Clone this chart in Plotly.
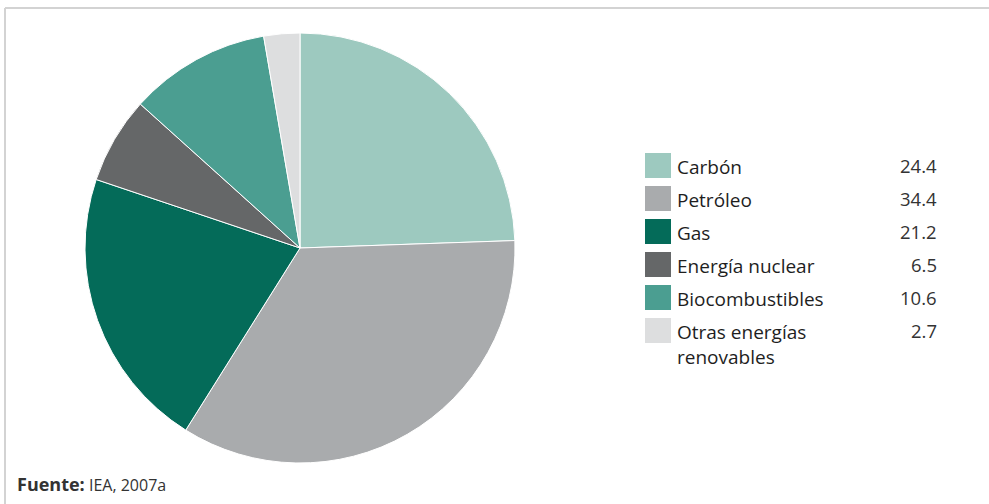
import plotly.graph_objects as go

categories = ["Carbón", "Petróleo", "Gas", "Energía nuclear", "Biocombustibles", "Otras energías<br>renovables"]
values = [24.4, 34.4, 21.2, 6.5, 10.6, 2.7]
value_labels = ["24.4", "34.4", "21.2", "6.5", "10.6", "2.7"]
colors = ["#9dc9bf", "#a9abad", "#046b59", "#656768", "#4b9e91", "#dddedf"]

W, H = 989, 504
def px(x): return x / W
def py(y): return 1 - y / H

fig = go.Figure()
fig.add_trace(go.Pie(
    labels=categories, values=values, sort=False, direction="clockwise", rotation=0,
    marker=dict(colors=colors, line=dict(color="white", width=1)),
    textinfo="none", hoverinfo="label+value", showlegend=False,
    domain=dict(x=[px(85), px(515)], y=[py(463), py(33)]),
))

shapes = [
    dict(type="line", xref="paper", yref="paper", x0=px(5), x1=1, y0=py(8), y1=py(8),
         line=dict(color="#d3d3d3", width=2)),
    dict(type="line", xref="paper", yref="paper", x0=px(5), x1=px(5), y0=py(8), y1=0,
         line=dict(color="#d3d3d3", width=2)),
]
annotations = []
row0, pitch = 165.5, 33
for i, (cat, col, vl) in enumerate(zip(categories, colors, value_labels)):
    yc = row0 + i * pitch
    shapes.append(dict(type="rect", xref="paper", yref="paper", x0=px(645), x1=px(671),
                       y0=py(yc + 12.5), y1=py(yc - 12.5), fillcolor=col, line=dict(width=0)))
    annotations.append(dict(xref="paper", yref="paper", x=px(675), y=py(yc - 14), text=cat,
                            showarrow=False, xanchor="left", yanchor="top", align="left",
                            font=dict(family="Open Sans", size=19, color="#1e1e1e")))
    annotations.append(dict(xref="paper", yref="paper", x=px(939), y=py(yc - 15), text=vl,
                            showarrow=False, xanchor="right", yanchor="top",
                            font=dict(family="Open Sans", size=18.5, color="#333333")))

annotations.append(dict(xref="paper", yref="paper", x=px(15), y=py(484),
                        text="<b>Fuente:</b><span style='font-size:16px'> IEA, 2007a</span>",
                        showarrow=False, xanchor="left", yanchor="middle",
                        font=dict(family="Open Sans", size=18, color="#333333")))

fig.update_layout(width=W, height=H, margin=dict(l=0, r=0, t=0, b=0),
                  paper_bgcolor="white", plot_bgcolor="white",
                  shapes=shapes, annotations=annotations)
fig.write_html("out.html", config={"displayModeBar": False},
               post_script="document.body.style.margin='0';document.body.style.overflow='hidden';")
